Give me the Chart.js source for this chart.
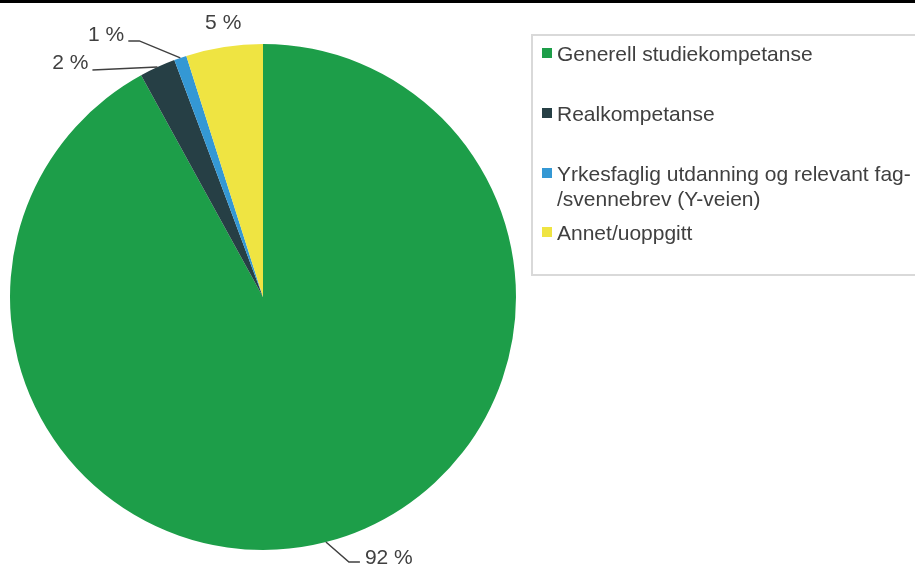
<!DOCTYPE html>
<html>
<head>
<meta charset="utf-8">
<script src="https://cdn.jsdelivr.net/npm/chart.js@4.4.1/dist/chart.umd.min.js"></script>
<style>
    body { margin: 0; background: #fff; overflow: hidden; font-family: "Liberation Sans", Arial, sans-serif; }
    #Wrap { position: relative; width: 915px; height: 568px; }
    #TopBar { position: absolute; left: 0; top: 0; width: 915px; height: 3px; background: #000; }
    #PieCanvas { position: absolute; left: 0; top: 0; }
    #LegendBox { position: absolute; left: 531px; top: 34px; width: 400px; height: 238px; border: 2px solid #d9d9d9; }
    .LegendItem { position: absolute; left: 9px; font-size: 21px; line-height: 25px; color: #404040; white-space: nowrap; }
    .LegendItem .Swatch { position: absolute; left: 0; top: 7px; width: 10px; height: 10px; }
    .LegendItem .Label { position: absolute; left: 15px; top: 0; }
</style>
</head>
<body>
<div id="Wrap">
    <canvas id="PieCanvas" width="915" height="568"></canvas>
    <div id="TopBar"></div>
    <div id="LegendBox"></div>
</div>
<script>
// categories, values (percent) and colours
var Categories = ['Generell studiekompetanse', 'Realkompetanse', ['Yrkesfaglig utdanning og relevant fag-', '/svennebrev (Y-veien)'], 'Annet/uoppgitt'];
var Shares = [92.0, 2.3, 0.8, 4.9];
var Colors = ['#1d9e49', '#263f45', '#3498d4', '#efe442'];

// where each label sits relative to the middle of its slice edge
var LabelLayout = [
    { elbow: [23, 20], end: [34, 20], text: [39, 16], align: 'left' },
    { elbow: null, end: [-65, 3], text: [-69, -4], align: 'right' },
    { elbow: [-41, -17], end: [-52, -17], text: [-56, -23], align: 'right' },
    { elbow: null, end: null, text: [-1, -24], align: 'center' }
];

var TextColor = '#404040';

function buildLegend() {
    var box = document.getElementById('LegendBox');
    var tops = [5, 65, 125, 184];
    for (var i = 0; i < Categories.length; i++) {
        var label = Array.isArray(Categories[i]) ? Categories[i].join('<br>') : Categories[i];
        var item = document.createElement('div');
        item.className = 'LegendItem';
        item.style.top = tops[i] + 'px';
        item.innerHTML = '<span class="Swatch" style="background:' + Colors[i] + '"></span><span class="Label">' + label + '</span>';
        box.appendChild(item);
    }
}

// draws the "92 %" style labels and their leader lines
var OutsideLabels = {
    id: 'outsideLabels',
    afterDatasetsDraw: function (chart) {
        var ctx = chart.ctx;
        var arcs = chart.getDatasetMeta(0).data;
        ctx.save();
        ctx.font = '21px "Liberation Sans", Arial, sans-serif';
        ctx.fillStyle = TextColor;
        ctx.strokeStyle = TextColor;
        ctx.lineWidth = 1.5;
        ctx.textBaseline = 'middle';
        for (var i = 0; i < arcs.length; i++) {
            var arc = arcs[i];
            var mid = (arc.startAngle + arc.endAngle) / 2;
            var ax = arc.x + Math.cos(mid) * arc.outerRadius;
            var ay = arc.y + Math.sin(mid) * arc.outerRadius;
            var lay = LabelLayout[i];
            if (lay.end) {
                ctx.beginPath();
                ctx.moveTo(ax, ay);
                if (lay.elbow) ctx.lineTo(ax + lay.elbow[0], ay + lay.elbow[1]);
                ctx.lineTo(ax + lay.end[0], ay + lay.end[1]);
                ctx.stroke();
            }
            ctx.textAlign = lay.align;
            ctx.fillText(Math.round(Shares[i]) + ' %', ax + lay.text[0], ay + lay.text[1]);
        }
        ctx.restore();
    }
};

var PieData = {
    type: 'pie',
    data: {
        labels: Categories,
        datasets: [{
            data: Shares,
            backgroundColor: Colors,
            borderWidth: 0
        }]
    },
    options: {
        responsive: false,
        animation: false,
        layout: { padding: { left: 10, right: 399, top: 44, bottom: 18 } },
        plugins: {
            legend: { display: false },
            tooltip: { enabled: false }
        }
    },
    plugins: [OutsideLabels]
};

buildLegend();
var PieChart = new Chart(document.getElementById('PieCanvas'), PieData);
</script>
</body>
</html>
